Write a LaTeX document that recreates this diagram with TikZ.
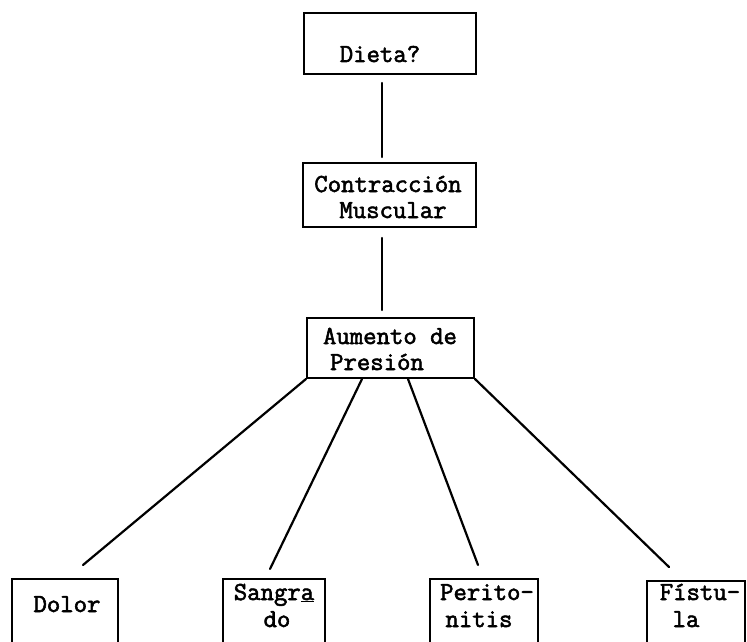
\documentclass[tikz,border=0pt]{standalone}
\usepackage{fontspec}
\setmonofont{Latin Modern Mono}[AutoFakeBold=2.2]
\begin{document}
\begin{tikzpicture}[x=1pt,y=-1pt,
  box/.style={draw,line width=2pt,inner sep=0pt},
  conn/.style={line width=2.2pt,line cap=round},
  txt/.style={anchor=base,inner sep=0pt,font=\fontsize{26}{26}\selectfont\ttfamily\bfseries}]
\useasboundingbox (0,0) rectangle (747,642);
\clip (0,0) rectangle (747,642);
% boxes
\node[box,minimum width=172pt,minimum height=61pt] (dieta) at (390,43.5) {};
\node[box,minimum width=173pt,minimum height=64pt] (contr) at (389.5,195) {};
\node[box,minimum width=167pt,minimum height=60pt] (aum) at (390.5,348) {};
\node[box,minimum width=106pt,minimum height=100pt] (dolor) at (65,629) {};
\node[box,minimum width=102pt,minimum height=100pt] (sang) at (274,629) {};
\node[box,minimum width=108pt,minimum height=100pt] (perit) at (484,629) {};
\node[box,minimum width=98pt,minimum height=100pt] (fist) at (696,631) {};
% texts
\node[txt] (t1) at (380,62) {Dieta?};
\node[txt] (t2) at (388,192) {Contracción};
\node[txt] (t3) at (393,218) {Muscular};
\node[txt] (t4) at (390,344) {Aumento de};
\node[txt] (t5) at (377,370) {Presión};
\node[txt] (t6) at (67,612) {Dolor};
\node[txt] (t7) at (274,600) {Sangr\underline{a}};
\node[txt] (t8) at (277,627) {do};
\node[txt] (t9) at (487,600) {Perito-};
\node[txt] (t10) at (479,627) {nitis};
\node[txt] (t11) at (700,600) {Fístu-};
\node[txt] (t12) at (686,627) {la};
% connector ends
\coordinate (a1) at (382,83);
\coordinate (a2) at (382,157);
\coordinate (b1) at (382,238);
\coordinate (b2) at (382,310);
\coordinate (s2) at (362,379);
\coordinate (p2) at (408,379);
\coordinate (e1) at (83,565);
\coordinate (e2) at (270,569);
\coordinate (e3) at (478,565);
\coordinate (e4) at (669,567);
% connectors
\draw[conn] (a1) -- (a2);
\draw[conn] (b1) -- (b2);
\draw[conn] (aum.south west) -- (e1);
\draw[conn] (s2) -- (e2);
\draw[conn] (p2) -- (e3);
\draw[conn] (aum.south east) -- (e4);
\end{tikzpicture}
\end{document}
